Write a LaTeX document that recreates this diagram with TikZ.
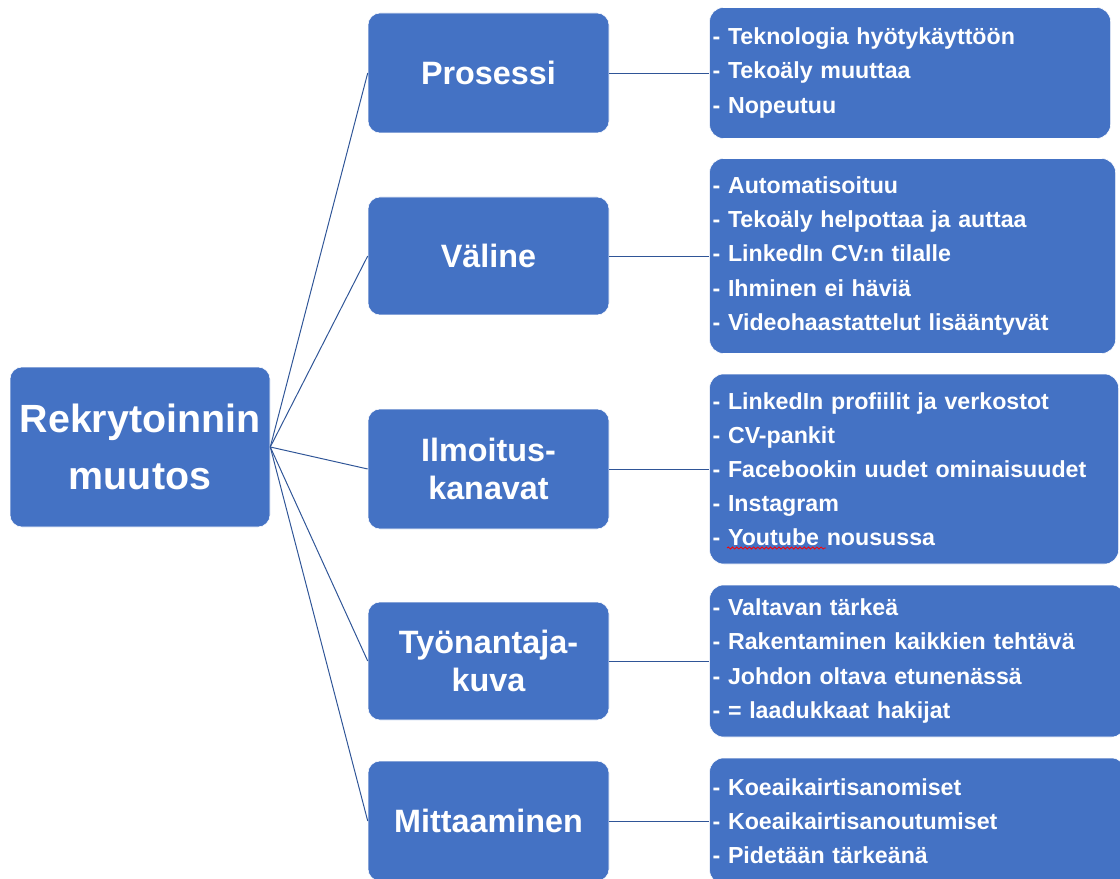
\documentclass[tikz,border=0pt]{standalone}
\usepackage{fontspec}
\setmainfont{Liberation Sans}
\usetikzlibrary{positioning,decorations.pathmorphing}
\definecolor{boxblue}{HTML}{4472C4}
\definecolor{lineblue}{HTML}{2F5597}

\begin{document}
\begin{tikzpicture}
[
    root/.style={draw=white, fill=boxblue, rounded corners=0.3cm, text=white, align=center,
        font=\fontsize{28}{40}\selectfont\bfseries, minimum width=6.5cm, minimum height=4cm},
    topic/.style={draw=white, fill=boxblue, rounded corners=0.3cm, text=white, align=center,
        font=\fontsize{23}{27}\selectfont\bfseries, minimum width=6.025cm, minimum height=3cm},
    notes/.style={draw=white, fill=boxblue, rounded corners=0.35cm, text=white, align=left,
        font=\fontsize{16.5}{24.2}\selectfont\bfseries, inner xsep=0.075cm},
    link/.style={draw=lineblue, line width=0.7pt}
]
    \useasboundingbox (0,0) rectangle (28,-21.975);

    \node [root] (change) at (3.5,-11.175) {Rekrytoinnin\\muutos};

    \node [topic] (process) at (12.2125,-1.825) {Prosessi};
    \node [topic, minimum height=2.95cm] (medium) at (12.2125,-6.4) {Väline};
    \node [topic] (channels) at (12.2125,-11.725) {Ilmoitus-\\kanavat};
    \node [topic, minimum height=2.95cm] (brand) at (12.2125,-16.525) {Työnantaja-\\kuva};
    \node [topic] (measuring) at (12.2125,-20.525) {Mittaaminen};

    \node [notes, text width=9.875cm, minimum height=3.275cm, right=2.5cm of process] (processnotes)
        {- Teknologia hyötykäyttöön\\- Tekoäly muuttaa\\- Nopeutuu};
    \node [notes, text width=10cm, minimum height=4.875cm, right=2.5cm of medium] (mediumnotes)
        {- Automatisoituu\\- Tekoäly helpottaa ja auttaa\\- LinkedIn CV:n tilalle\\- Ihminen ei häviä\\- Videohaastattelut lisääntyvät};
    \node [notes, text width=10.075cm, minimum height=4.75cm, right=2.5cm of channels] (channelsnotes)
        {- LinkedIn profiilit ja verkostot\\- CV-pankit\\- Facebookin uudet ominaisuudet\\- Instagram\\- Youtube nousussa};
    \node [notes, text width=10.25cm, minimum height=3.8cm, right=2.5cm of brand] (brandnotes)
        {- Valtavan tärkeä\\- Rakentaminen kaikkien tehtävä\\- Johdon oltava etunenässä\\- = laadukkaat hakijat};
    \node [notes, text width=10.25cm, minimum height=3.15cm, right=2.5cm of measuring] (measuringnotes)
        {- Koeaikairtisanomiset\\- Koeaikairtisanoutumiset\\- Pidetään tärkeänä};

    % root to topics
    \draw [link] (change.east) -- (process.west);
    \draw [link] (change.east) -- (medium.west);
    \draw [link] (change.east) -- (channels.west);
    \draw [link] (change.east) -- (brand.west);
    \draw [link] (change.east) -- (measuring.west);

    % topics to notes
    \draw [link] (process) -- (processnotes);
    \draw [link] (medium) -- (mediumnotes);
    \draw [link] (channels) -- (channelsnotes);
    \draw [link] (brand) -- (brandnotes);
    \draw [link] (measuring) -- (measuringnotes);

    % spell check mark
    \draw [red, line width=0.6pt, decorate, decoration={snake, amplitude=0.7pt, segment length=3pt}]
        (18.175,-13.7) -- (20.65,-13.7);
\end{tikzpicture}
\end{document}
